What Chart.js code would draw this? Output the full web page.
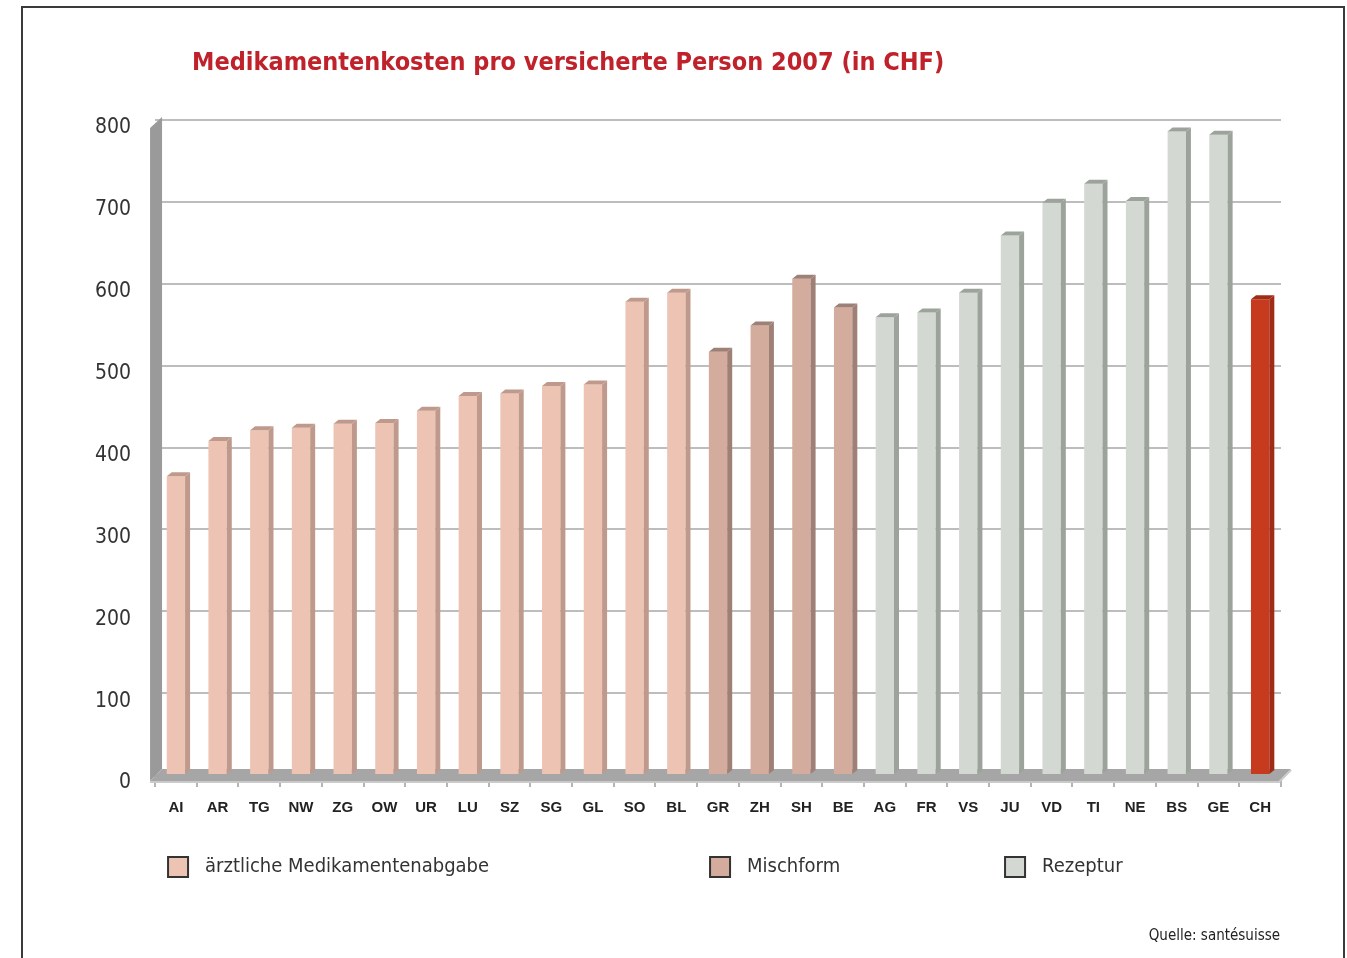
<!DOCTYPE html>
<html>
<head>
<meta charset="utf-8">
<script src="https://cdn.jsdelivr.net/npm/chart.js@4.4.1/dist/chart.umd.min.js"></script>
<style>
  html, body { margin: 0; padding: 0; background: #fff; }
  #frame { position: absolute; left: 21px; top: 6px; width: 1320px; height: 1000px; border: 2px solid #3a3a3a; }
  #wrap { position: absolute; left: 0; top: 0; width: 1320px; height: 950px; }
</style>
</head>
<body>
<div id="frame"><div id="wrap"><canvas id="myChart"></canvas></div></div>
<script>
'use strict';

// DATA //
const cantons = ['AI', 'AR', 'TG', 'NW', 'ZG', 'OW', 'UR', 'LU', 'SZ', 'SG', 'GL', 'SO', 'BL',
  'GR', 'ZH', 'SH', 'BE', 'AG', 'FR', 'VS', 'JU', 'VD', 'TI', 'NE', 'BS', 'GE', 'CH'];
const costs = [365, 408, 421, 424, 429, 430, 445, 463, 466, 475, 477, 578, 589,
  517, 549, 606, 571, 559, 565, 589, 659, 699, 722, 701, 786, 782, 581];
// 0 = aerztliche Abgabe, 1 = Mischform, 2 = Rezeptur, 3 = Schweiz
const groups = [0, 0, 0, 0, 0, 0, 0, 0, 0, 0, 0, 0, 0,
  1, 1, 1, 1, 2, 2, 2, 2, 2, 2, 2, 2, 2, 3];
const groupNames = ['ärztliche Medikamentenabgabe', 'Mischform', 'Rezeptur'];
const yTicks = [0, 100, 200, 300, 400, 500, 600, 700, 800];
const titleText = 'Medikamentenkosten pro versicherte Person 2007 (in CHF)';
const sourceText = 'Quelle: santésuisse';

const faceColors = ['#EDC3B3', '#D4AC9E', '#D3D9D2', '#C63A1E'];
const sideColors = ['#BF9A8C', '#9E8076', '#9CA39B', '#A02C17'];

const narrow = '"DejaVu Sans Condensed", "Liberation Sans Narrow", "Roboto Condensed", "DejaVu Sans", sans-serif';

// 3D LOOK //
const depthX = 5, depthY = 4;
const fakeDepth = {
  id: 'fakeDepth',
  beforeDatasetsDraw(chart) {
    const ctx = chart.ctx;
    const a = chart.chartArea;
    const y0 = chart.scales.y.getPixelForValue(0);
    ctx.save();
    // left wall
    ctx.fillStyle = '#9a9a9a';
    ctx.beginPath();
    ctx.moveTo(a.left - 5, a.top + 8);
    ctx.lineTo(a.left + 7, a.top - 3);
    ctx.lineTo(a.left + 7, y0 - 6);
    ctx.lineTo(a.left - 5, y0 + 6);
    ctx.closePath();
    ctx.fill();
    // floor
    ctx.fillStyle = '#a6a6a6';
    ctx.beginPath();
    ctx.moveTo(a.left + 7, y0 - 6);
    ctx.lineTo(a.right + 10, y0 - 6);
    ctx.lineTo(a.right - 2, y0 + 6);
    ctx.lineTo(a.left - 5, y0 + 6);
    ctx.closePath();
    ctx.fill();
    ctx.strokeStyle = '#cacaca';
    ctx.lineWidth = 2;
    ctx.beginPath();
    ctx.moveTo(a.left - 5, y0 + 7);
    ctx.lineTo(a.right - 2, y0 + 7);
    ctx.lineTo(a.right + 10, y0 - 5);
    ctx.stroke();
    ctx.restore();
  },
  afterDatasetsDraw(chart) {
    const ctx = chart.ctx;
    const meta = chart.getDatasetMeta(0);
    ctx.save();
    meta.data.forEach(function(bar, i) {
      const p = bar.getProps(['x', 'y', 'width', 'base'], true);
      const r = p.x + p.width / 2, l = p.x - p.width / 2;
      ctx.fillStyle = sideColors[groups[i]];
      ctx.beginPath();
      ctx.moveTo(r, p.y);
      ctx.lineTo(r + depthX, p.y - depthY);
      ctx.lineTo(r + depthX, p.base - depthY);
      ctx.lineTo(r, p.base);
      ctx.closePath();
      ctx.fill();
      ctx.beginPath();
      ctx.moveTo(l, p.y);
      ctx.lineTo(l + depthX, p.y - depthY);
      ctx.lineTo(r + depthX, p.y - depthY);
      ctx.lineTo(r, p.y);
      ctx.closePath();
      ctx.fill();
    });
    ctx.restore();
  }
};

// TITLE, LEGEND, SOURCE //
const legendOffsets = [13, 555, 850];
const textParts = {
  id: 'textParts',
  afterDraw(chart) {
    const ctx = chart.ctx;
    const a = chart.chartArea;
    ctx.save();
    ctx.textBaseline = 'middle';
    ctx.fillStyle = '#C0222B';
    ctx.font = 'bold 25px ' + narrow;
    ctx.fillText(titleText, a.left + 37, 55);

    ctx.font = '20px ' + narrow;
    groupNames.forEach(function(name, i) {
      const x = a.left + legendOffsets[i];
      const y = a.bottom + 92;
      ctx.fillStyle = faceColors[i];
      ctx.fillRect(x, y - 10, 20, 20);
      ctx.strokeStyle = '#333';
      ctx.lineWidth = 2;
      ctx.strokeRect(x, y - 10, 20, 20);
      ctx.fillStyle = '#333';
      ctx.fillText(name, x + 37, y);
    });

    ctx.font = '15px ' + narrow;
    ctx.textAlign = 'right';
    ctx.fillStyle = '#222';
    ctx.fillText(sourceText, a.right - 1, a.bottom + 161);
    ctx.restore();
  }
};

// CHART //
const canvas = document.getElementById('myChart');
const ctx = canvas.getContext('2d');

const chart = new Chart(ctx, {
  type: 'bar',
  data: {
    labels: cantons,
    datasets: [{
      label: 'Medikamentenkosten',
      data: costs,
      backgroundColor: groups.map(g => faceColors[g]),
      borderWidth: 0,
      barPercentage: 0.44,
      categoryPercentage: 1
    }]
  },
  options: {
    responsive: true,
    maintainAspectRatio: false,
    animation: false,
    layout: { padding: { left: 48, right: 62, top: 112, bottom: 129 } },
    scales: {
      x: {
        grid: { display: true, drawOnChartArea: false, drawTicks: true, tickLength: 12, color: '#b5b5b5', lineWidth: 2, offset: true },
        border: { display: false },
        ticks: {
          color: '#222',
          font: { family: '"Liberation Sans", Arial, sans-serif', size: 15, weight: 'bold' },
          padding: 12,
          maxRotation: 0,
          autoSkip: false
        }
      },
      y: {
        min: 0,
        max: 800,
        afterBuildTicks(axis) { axis.ticks = yTicks.map(v => ({ value: v })); },
        grid: { color: '#bdbdbd', lineWidth: 2, drawTicks: false },
        border: { display: false },
        ticks: {
          color: '#333',
          font: { family: narrow, size: 21 },
          padding: 24,
          labelOffset: 8
        }
      }
    },
    plugins: {
      legend: { display: false },
      tooltip: { enabled: false }
    }
  },
  plugins: [fakeDepth, textParts]
});
</script>
</body>
</html>
